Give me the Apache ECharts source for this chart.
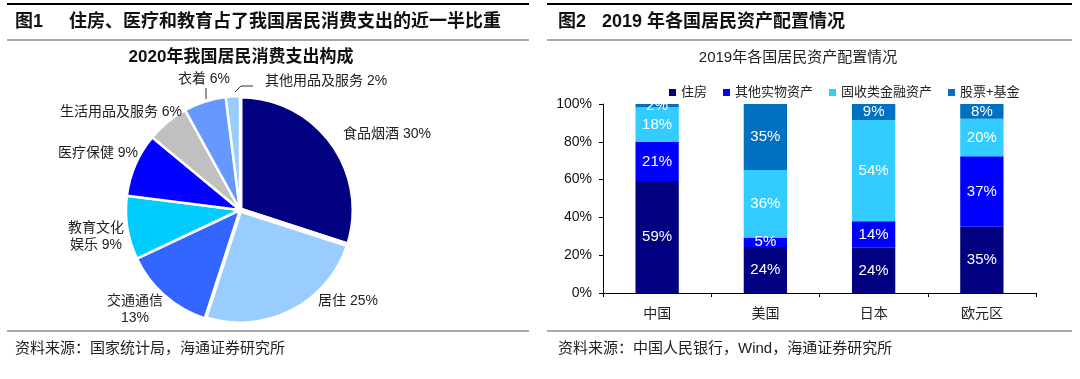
<!DOCTYPE html>
<html><head><meta charset="utf-8">
<script src="https://cdn.jsdelivr.net/npm/echarts@6/dist/echarts.min.js"></script>
<style>html,body{margin:0;padding:0;background:#fff}#c{width:1080px;height:379px}</style>
</head><body><div id="c"></div>
<script>
// ---- data ----
const pieNames = ['食品烟酒','居住','交通通信','教育文化娱乐','医疗保健','生活用品及服务','衣着','其他用品及服务'];
const pieValues = [30,25,13,9,9,6,6,2];
const countries = ['中国','美国','日本','欧元区'];
const seriesNames = ['住房','其他实物资产','固收类金融资产','股票+基金'];
const housing     = [59.3,24.3,23.9,35.1];
const otherReal   = [20.6, 5.0,14.1,37.3];
const fixedIncome = [18.4,35.8,53.6,19.8];
const equity      = [ 1.7,34.9, 8.5, 7.8];
const yTicks = [0,20,40,60,80,100];

// ---- styles / layout ----
const FONT = "'Liberation Sans','Noto Sans CJK SC',sans-serif";
const pieColors = ['#000080','#99CCFF','#3366FF','#00CCFF','#0000FF','#C0C0C0','#6699FF','#99CCFF'];
const barColors = ['#000080','#0000FF','#33CCFF','#0070C0'];
const pieLabelPlace = [
  {x:343,y:134,align:'left'},
  {x:318,y:301,align:'left'},
  {x:135,y:310,align:'center'},
  {x:96,y:237,align:'center'},
  {x:138,y:153,align:'right'},
  {x:182,y:112,align:'right'},
  {x:204,y:79,align:'center'},
  {x:265,y:81,align:'left'}
];
const pieLeader = {6:[[206,99],[206,93],[206,88]], 7:[[235,92],[241,86],[253,86]]};
const wideBorder = [0,1];

function pieLabelText(p){
  const v = Math.round(p.value) + '%';
  if (p.name === '交通通信') return p.name + '\n' + v;
  if (p.name === '教育文化娱乐') return '教育文化\n娱乐 ' + v;
  return p.name + ' ' + v;
}

const chart = echarts.init(document.getElementById('c'), null, {renderer:'canvas'});

const lineStyleDark = {stroke:'#000', lineWidth:2};
const lineStyleGray = {stroke:'#555', lineWidth:1.2};
function hline(x1,x2,y,style){return {type:'line', shape:{x1:x1,y1:y,x2:x2,y2:y}, style:style, silent:true};}
function txt(t,x,y,font,align,fill){return {type:'text', style:{text:t,x:x,y:y,font:font,fill:fill||'#111',textAlign:align||'left',textVerticalAlign:'middle'}, silent:true};}

const barSeries = [housing, otherReal, fixedIncome, equity].map((arr,i)=>({
  name: seriesNames[i], type:'bar', stack:'total', barWidth:'40%',
  xAxisIndex:0, yAxisIndex:0,
  itemStyle:{color:barColors[i]},
  label:{show:true, position:'inside', color:'#fff', fontSize:15, fontFamily:FONT,
         formatter:p=>Math.round(p.value)+'%'},
  data: arr
}));

chart.setOption({
  animation:false,
  textStyle:{fontFamily:FONT},
  graphic:[
    hline(7,529,4,lineStyleDark), hline(7,529,40,lineStyleGray), hline(7,529,331,lineStyleGray),
    hline(547,1072,4,lineStyleDark), hline(547,1072,40,lineStyleGray), hline(547,1072,331,lineStyleGray),
    txt('图1',15,22,'bold 18px '+FONT),
    txt('住房、医疗和教育占了我国居民消费支出的近一半比重',69,22,'bold 18px '+FONT),
    txt('图2',558,22,'bold 18px '+FONT),
    txt('2019 年各国居民资产配置情况',602,22,'bold 18px '+FONT),
    txt('2020年我国居民消费支出构成',241,57,'bold 17px '+FONT,'center'),
    txt('2019年各国居民资产配置情况',798,58,'15px '+FONT,'center','#222'),
    txt('资料来源：国家统计局，海通证券研究所',15,349,'15px '+FONT,'left','#222'),
    txt('资料来源：中国人民银行，Wind，海通证券研究所',558,349,'15px '+FONT,'left','#222')
  ],
  legend:{
    data:seriesNames, left:664, top:81, itemWidth:7, itemHeight:7, icon:'rect', itemGap:16,
    textStyle:{fontSize:13, color:'#222', fontFamily:FONT}
  },
  grid:{left:603, right:44, top:104, bottom:86},
  xAxis:{type:'category', data:countries, boundaryGap:true,
    axisLine:{lineStyle:{color:'#000', width:1}},
    axisTick:{show:true, length:4, interval:0, alignWithLabel:false, lineStyle:{color:'#000'}},
    axisLabel:{fontSize:14, color:'#222', margin:14, fontFamily:FONT}
  },
  yAxis:{type:'value', min:yTicks[0], max:yTicks[yTicks.length-1], interval:yTicks[1]-yTicks[0],
    axisLine:{show:true, lineStyle:{color:'#000', width:1}},
    axisTick:{show:true, length:4, lineStyle:{color:'#000'}},
    splitLine:{show:false},
    axisLabel:{fontSize:14, color:'#111', margin:11, formatter:'{value}%', fontFamily:FONT}
  },
  series:[
    {
      type:'pie', center:[240,210], radius:114, startAngle:90, clockwise:true,
      avoidLabelOverlap:false,
      itemStyle:{borderColor:'#fff', borderWidth:2.5},
      label:{show:true, position:'outside', fontSize:14, color:'#222', fontFamily:FONT,
             lineHeight:17, formatter:pieLabelText},
      labelLine:{show:false},
      emphasis:{disabled:true},
      labelLayout:function(p){
        const pl = pieLabelPlace[p.dataIndex];
        const r = {x:pl.x, y:pl.y, align:pl.align, verticalAlign:'middle'};
        if (pieLeader[p.dataIndex]) r.labelLinePoints = pieLeader[p.dataIndex];
        return r;
      },
      data: pieNames.map((n,i)=>({
        name:n, value:pieValues[i],
        itemStyle:{color:pieColors[i], borderWidth: wideBorder.indexOf(i)>=0 ? 5 : 2.5},
        labelLine: pieLeader[i] ? {show:true, length:8, length2:6, lineStyle:{color:'#333', width:1}} : {show:false}
      }))
    }
  ].concat(barSeries)
});
</script></body></html>
